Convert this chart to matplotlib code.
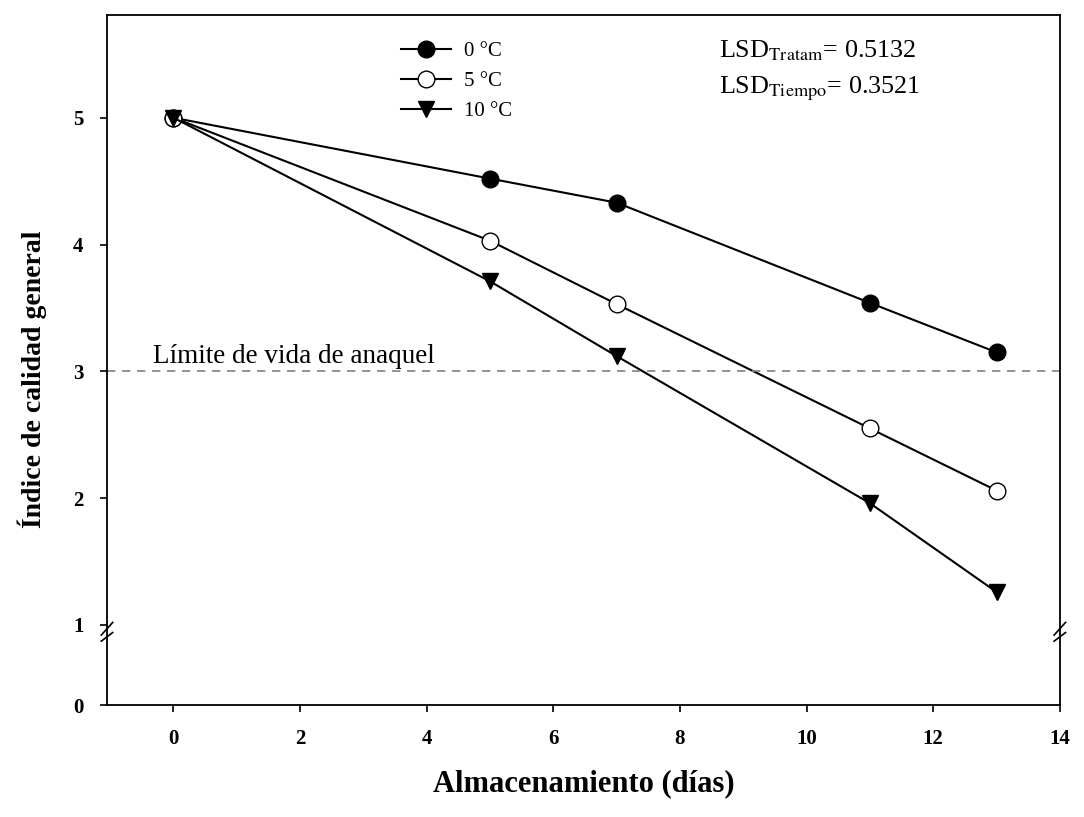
import matplotlib.pyplot as plt
import numpy as np

plt.rcParams['font.family'] = ['Liberation Serif', 'DejaVu Serif']
plt.rcParams['mathtext.fontset'] = 'stix'

# storage days and overall quality index per temperature
dias = [0, 5, 7, 11, 13]
temp_0 = [5.0, 4.52, 4.33, 3.54, 3.15]
temp_5 = [5.0, 4.03, 3.53, 2.55, 2.06]
temp_10 = [5.0, 3.71, 3.12, 1.96, 1.26]
limite = 3.0

# broken y axis: compress the segment below the break
corte = 0.92
escala = 0.6

def forward(y):
    y = np.asarray(y, dtype=float)
    return np.where(y >= corte, y, corte - (corte - y) * escala)

def inverse(t):
    t = np.asarray(t, dtype=float)
    return np.where(t >= corte, t, corte - (corte - t) / escala)

fig = plt.figure(figsize=(10.84, 8.17), dpi=100)
ax = fig.add_axes([0.0987, 0.137, 0.879, 0.8446])
ax.set_yscale('function', functions=(forward, inverse))

ax.plot(dias, temp_0, '-o', color='black', lw=1.5, ms=12, mfc='black', label='0 °C')
ax.plot(dias, temp_5, '-o', color='black', lw=1.5, ms=12, mfc='white', label='5 °C')
ax.plot(dias, temp_10, '-v', color='black', lw=1.5, ms=12, mfc='black', label='10 °C')

ax.axhline(limite, color='gray', ls=(0, (5, 4)), lw=1.2)
ax.text(-0.33, 3.12, 'Límite de vida de anaquel', fontsize=19.5, va='center')

ax.text(8.62, 5.53, r'LSD$_{\mathrm{Tratam}}$= 0.5132', fontsize=18.8, va='center')
ax.text(8.62, 5.23, r'LSD$_{\mathrm{Tiempo}}$= 0.3521', fontsize=18.8, va='center')

ax.legend(loc='upper left', bbox_to_anchor=(0.3, 0.974), frameon=False,
          fontsize=15, handlelength=2.4, handletextpad=0.6,
          labelspacing=0.5, borderaxespad=0)

ax.set_xlim(-1.05, 14)
ax.set_ylim(0, 5.81)
ax.set_xticks(range(0, 15, 2))
ax.set_yticks([0, 1, 2, 3, 4, 5])
ax.tick_params(direction='out', length=5, width=1.2, labelsize=15, pad=12)
for lbl in ax.get_xticklabels() + ax.get_yticklabels():
    lbl.set_fontweight('bold')
for sp in ax.spines.values():
    sp.set_linewidth(1.3)

# break marks on both vertical axes
trans = ax.get_yaxis_transform()
for x0 in (0, 1):
    for dy in (-0.03, 0.05):
        ax.plot([x0 - 0.006, x0 + 0.006], [corte + dy - 0.05, corte + dy + 0.05],
                transform=trans, color='black', lw=1.2, clip_on=False)

ax.set_xlabel('Almacenamiento (días)', fontsize=22, fontweight='bold', labelpad=15)
ax.set_ylabel('Índice de calidad general', fontsize=20, fontweight='bold')
ax.yaxis.set_label_coords(-0.063, 0.472)

plt.savefig('out.png', dpi=100)
